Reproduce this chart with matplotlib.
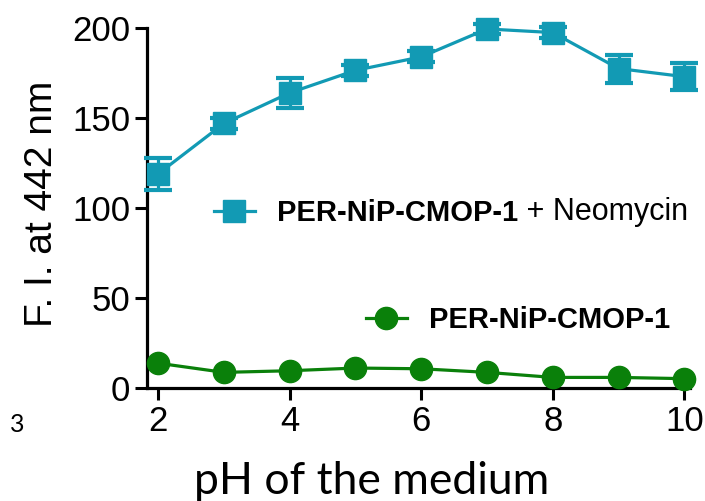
import matplotlib.pyplot as plt
from matplotlib.lines import Line2D

# pH series and fluorescence intensity at 442 nm
ph = [2, 3, 4, 5, 6, 7, 8, 9, 10]
fi_neomycin = [119, 147, 164, 176.5, 184, 199.5, 197.5, 177.5, 173]
err_neomycin = [8.9, 3, 8.3, 3, 3, 3, 3, 7.8, 7.5]
fi_probe = [13.8, 8.7, 9.6, 11.1, 10.7, 8.7, 5.9, 5.9, 5.2]
err_probe = [1, 1, 1, 1, 1, 1, 1, 1, 1]

x_ticks = [2, 4, 6, 8, 10]
y_ticks = [0, 50, 100, 150, 200]

cyan = "#129AB4"
green = "#0A800A"

plt.rcParams["font.family"] = ["Liberation Sans", "DejaVu Sans"]

fig = plt.figure(figsize=(7.05, 5.01), dpi=100)
ax = fig.add_axes([0.2085, 0.2255, 0.7705, 0.7185])

ax.errorbar(ph, fi_neomycin, yerr=err_neomycin, color=cyan, marker="s",
            markersize=16, linewidth=2.3, elinewidth=2.3, capsize=10,
            capthick=3, clip_on=False, zorder=3)
ax.errorbar(ph, fi_probe, yerr=err_probe, color=green, marker="o",
            markersize=16, linewidth=2.3, elinewidth=2.3, capsize=0,
            clip_on=False, zorder=3)

ax.set_xlim(1.83, 10.09)
ax.set_ylim(0, 200)
ax.set_xticks(x_ticks)
ax.set_yticks(y_ticks)
ax.tick_params(axis="both", labelsize=25, width=2.2, length=8.6, pad=3.6)
for side in ("top", "right"):
    ax.spines[side].set_visible(False)
for side in ("left", "bottom"):
    ax.spines[side].set_linewidth(2.3)

ax.set_ylabel("F. I. at 442 nm", fontsize=28)
ax.yaxis.set_label_coords(-0.160, 0.511)
ax.set_xlabel("pH of the medium", fontsize=32, family=["Lato", "DejaVu Sans"])
ax.xaxis.label.set_verticalalignment("baseline")
ax.xaxis.set_label_coords(0.414, -0.294)

# legend entries placed inside the plotting area
h_neo = Line2D([], [], color=cyan, marker="s", markersize=16, linewidth=2.3)
h_probe = Line2D([], [], color=green, marker="o", markersize=16, linewidth=2.3)

leg1 = ax.legend([h_neo], ["PER-NiP-CMOP-1"], loc="center left",
                 bbox_to_anchor=(0.123, 0.486), frameon=False,
                 prop={"weight": "bold", "size": 21}, handlelength=1.4,
                 handletextpad=0.75, borderpad=0, borderaxespad=0)
ax.add_artist(leg1)

ax.legend([h_probe], ["PER-NiP-CMOP-1"], loc="center left",
          bbox_to_anchor=(0.403, 0.189), frameon=False,
          prop={"weight": "bold", "size": 21}, handlelength=1.4,
          handletextpad=0.75, borderpad=0, borderaxespad=0)

# regular-weight suffix after the bold legend label
fig.canvas.draw()
bb = leg1.get_texts()[0].get_window_extent()
fig.text(bb.x1 / fig.dpi / fig.get_figwidth(), bb.y0 / fig.dpi / fig.get_figheight(),
         " + Neomycin", fontsize=22, va="bottom", ha="left")

fig.text(0.014, 0.138, "3", fontsize=18, family=["Lato", "DejaVu Sans"],
         va="baseline")

fig.savefig("out.png", dpi=100)
